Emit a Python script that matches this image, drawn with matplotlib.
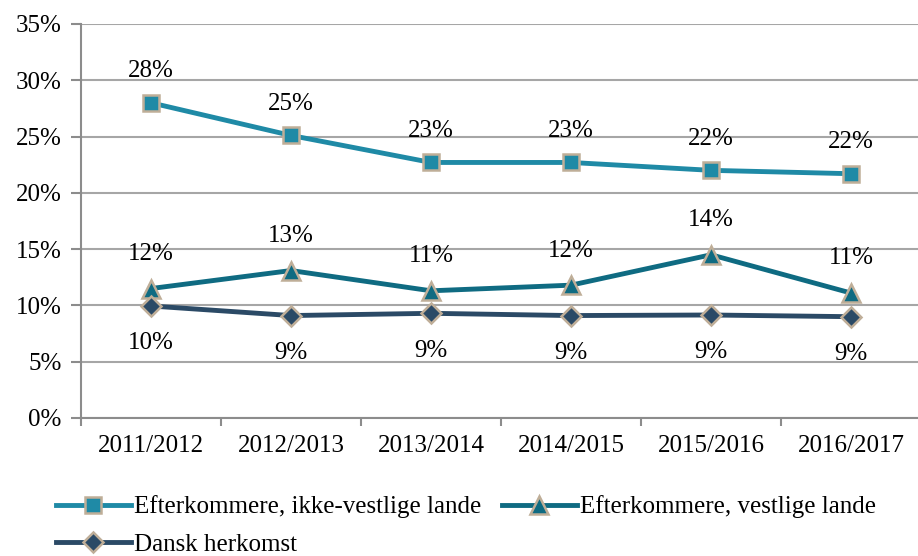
import matplotlib.pyplot as plt
from matplotlib.ticker import FixedLocator

# Дані з графіка
years = ['2011/2012', '2012/2013', '2013/2014', '2014/2015', '2015/2016', '2016/2017']
ikke_vestlige = [28.0, 25.1, 22.7, 22.7, 22.0, 21.7]
vestlige = [11.5, 13.1, 11.3, 11.8, 14.5, 11.1]
dansk = [9.95, 9.1, 9.3, 9.1, 9.15, 9.0]
labels_ikke = ['28%', '25%', '23%', '23%', '22%', '22%']
labels_vest = ['12%', '13%', '11%', '12%', '14%', '11%']
labels_dansk = ['10%', '9%', '9%', '9%', '9%', '9%']
y_ticks = [0, 5, 10, 15, 20, 25, 30, 35]

plt.rcParams['font.family'] = ['Liberation Serif', 'DejaVu Serif']
FS = 18

fig = plt.figure(figsize=(9.18, 5.56), dpi=100)
ax = fig.add_axes([81 / 918, 138 / 556, 840 / 918, 394 / 556])

x = list(range(len(years)))
edge = '#bfae98'

l1, = ax.plot(x, ikke_vestlige, color='#1f8aa6', lw=3.5, marker='s', ms=12,
              mfc='#1f8aa6', mec=edge, mew=1.8, zorder=3,
              label='Efterkommere, ikke-vestlige lande')
l2, = ax.plot(x, vestlige, color='#0f6b82', lw=3.5, marker='^', ms=13,
              mfc='#0f6b82', mec=edge, mew=1.8, zorder=3,
              label='Efterkommere, vestlige lande')
l3, = ax.plot(x, dansk, color='#2b4a66', lw=3.5, marker='D', ms=10,
              mfc='#2b4a66', mec=edge, mew=1.8, zorder=3,
              label='Dansk herkomst')

# Підписи значень
for i in x:
    ax.annotate(labels_ikke[i], (i, ikke_vestlige[i]), xytext=(0, 15),
                textcoords='offset points', ha='center', va='bottom', fontsize=FS)
    ax.annotate(labels_vest[i], (i, vestlige[i]), xytext=(0, 17),
                textcoords='offset points', ha='center', va='bottom', fontsize=FS)
    ax.annotate(labels_dansk[i], (i, dansk[i]), xytext=(0, -19),
                textcoords='offset points', ha='center', va='top', fontsize=FS)

ax.set_xlim(-0.5, len(years) - 0.5)
ax.set_ylim(0, 35)
ax.set_yticks(y_ticks)
ax.set_yticklabels([f'{t}%' for t in y_ticks], fontsize=FS)
ax.set_xticks(x)
ax.set_xticklabels(years, fontsize=FS)
ax.xaxis.set_minor_locator(FixedLocator([i + 0.5 for i in range(-1, len(years))]))
ax.tick_params(axis='x', which='major', length=0, pad=12)
ax.tick_params(axis='x', which='minor', length=6, color='#8c8c8c', width=1.5)
ax.tick_params(axis='y', length=7, color='#8c8c8c', width=1.5, pad=7)

ax.grid(axis='y', color='#a6a6a6', lw=1.5, zorder=0)
for s in ['top', 'right']:
    ax.spines[s].set_visible(False)
for s in ['left', 'bottom']:
    ax.spines[s].set_color('#8c8c8c')
    ax.spines[s].set_linewidth(1.5)

fig.legend([l1, l3, l2], [l1.get_label(), l3.get_label(), l2.get_label()],
           ncol=2, loc='upper left', bbox_to_anchor=(38 / 918, 1 - 478 / 556),
           frameon=False, fontsize=FS, handlelength=3.0, handletextpad=0.15,
           columnspacing=0.8, labelspacing=0.6, borderpad=0.2)

fig.savefig('out.png', dpi=100)
